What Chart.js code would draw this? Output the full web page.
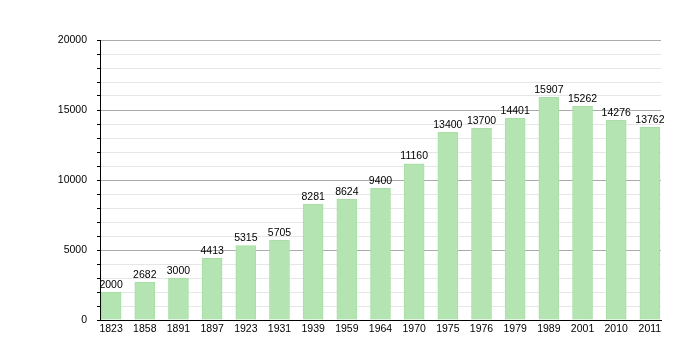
<!DOCTYPE html>
<html>
<head>
<meta charset="utf-8">
<script src="https://cdn.jsdelivr.net/npm/chart.js@4"></script>
<style>
	html, body { margin: 0; padding: 0; background: #fff; }
	#wrap { width: 700px; height: 360px; }
</style>
</head>
<body>
<div id="wrap"><canvas id="popChart"></canvas></div>
<script>
// data
var years = ['1823', '1858', '1891', '1897', '1923', '1931', '1939', '1959', '1964', '1970', '1975', '1976', '1979', '1989', '2001', '2010', '2011'];
var population = [2000, 2682, 3000, 4413, 5315, 5705, 8281, 8624, 9400, 11160, 13400, 13700, 14401, 15907, 15262, 14276, 13762];

// labels above each bar
var valueLabels = {
	id: 'valueLabels',
	afterDatasetsDraw: function(chart) {
		var ctx = chart.ctx;
		var meta = chart.getDatasetMeta(0);
		ctx.save();
		ctx.font = '10.5px "Liberation Sans", Arial, sans-serif';
		ctx.fillStyle = '#000';
		ctx.textAlign = 'center';
		ctx.textBaseline = 'bottom';
		meta.data.forEach(function(bar, i) {
			ctx.fillText(population[i], bar.x, bar.y - 2);
		});
		ctx.restore();
	}
};

new Chart('popChart', {
	type: 'bar',
	data: {
		datasets: [{
			data: population.map(function(v, i) { return {x: i, y: v}; }),
			backgroundColor: '#b3e4b1',
			borderColor: '#a9dea7',
			borderWidth: 1,
			barThickness: 20
		}]
	},
	options: {
		responsive: true,
		maintainAspectRatio: false,
		animation: false,
		layout: {padding: {left: 0, right: 39, top: 40, bottom: 0}},
		plugins: {
			legend: {display: false},
			tooltip: {enabled: false}
		},
		scales: {
			x: {
				type: 'linear',
				offset: false,
				min: -0.33,
				max: 16.33,
				afterBuildTicks: function(scale) {
					scale.ticks = years.map(function(y, i) { return {value: i}; });
				},
				afterFit: function(scale) { scale.height = 40; },
				grid: {drawOnChartArea: false, drawTicks: false, offset: false},
				border: {display: true, color: '#000', width: 1},
				ticks: {
					autoSkip: false,
					maxRotation: 0,
					padding: 3,
					color: '#000',
					font: {family: '"Liberation Sans", Arial, sans-serif', size: 10.5},
					callback: function(v) { return years[v]; }
				}
			},
			y: {
				min: 0,
				max: 20000,
				afterFit: function(scale) { scale.width = 100; },
				grid: {
					color: function(c) {
						if (c.tick.value === 0) return 'rgba(0,0,0,0)';
						return c.tick.value % 5000 === 0 ? '#ababab' : '#e6e6e6';
					},
					tickColor: '#000',
					tickLength: 3
				},
				border: {display: true, color: '#000', width: 1},
				ticks: {
					stepSize: 1000,
					autoSkip: false,
					padding: 10,
					color: '#000',
					font: {family: '"Liberation Sans", Arial, sans-serif', size: 10.5},
					callback: function(v) { return v % 5000 === 0 ? v : ''; }
				}
			}
		}
	},
	plugins: [valueLabels]
});
</script>
</body>
</html>
